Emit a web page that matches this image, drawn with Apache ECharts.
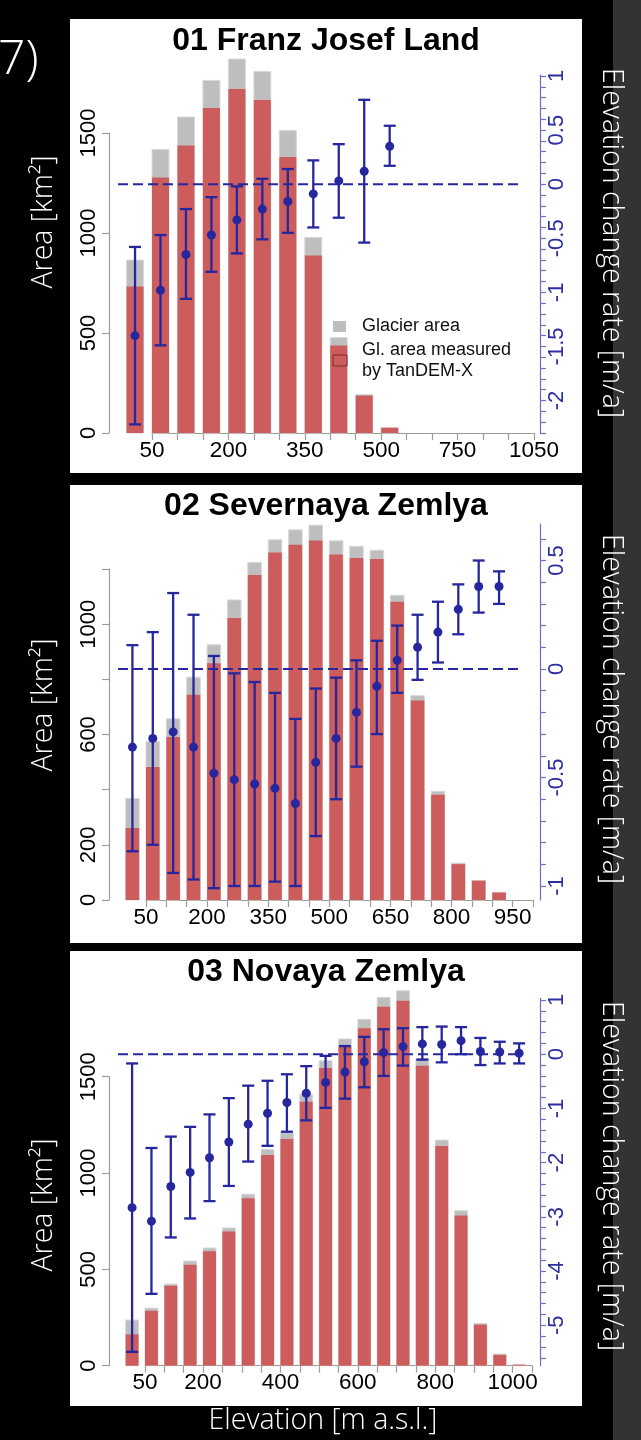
<!DOCTYPE html>
<html>
<head>
<meta charset="utf-8">
<script src="https://cdn.jsdelivr.net/npm/echarts@6/dist/echarts.min.js"></script>
<style>
  html, body { margin: 0; padding: 0; background: #000; }
  #wrap { position: relative; width: 641px; height: 1440px; overflow: hidden; background: #000; }
  #strip { position: absolute; left: 613px; top: 0; width: 28px; height: 1440px; background: #333; }
  .panel { position: absolute; background: #fff; }
  #chart { position: absolute; left: 0; top: 0; width: 641px; height: 1440px; }
</style>
</head>
<body>
<div id="wrap">
  <div id="strip"></div>
  <div class="panel" style="left:70px;top:19px;width:512px;height:454px"></div>
  <div class="panel" style="left:70px;top:485px;width:512px;height:458px"></div>
  <div class="panel" style="left:70px;top:951px;width:512px;height:455px"></div>
  <div id="chart"></div>
</div>
<script>
// ---- 01 Franz Josef Land: area per 50 m elevation bin (km²) and elevation change rate (m/a)
const fjlGlacierArea = [865, 1418, 1580, 1763, 1870, 1808, 1513, 978, 477, 193, 28];
const fjlTandemArea  = [732, 1277, 1437, 1625, 1720, 1665, 1380, 887, 437, 187, 26];
const fjlRate     = [-1.40, -0.98, -0.65, -0.47, -0.33, -0.23, -0.16, -0.09, 0.03, 0.12, 0.35];
const fjlRateLow  = [-2.22, -1.49, -1.06, -0.81, -0.64, -0.51, -0.45, -0.40, -0.31, -0.54, 0.17];
const fjlRateHigh = [-0.58, -0.47, -0.23, -0.12, -0.02, 0.05, 0.14, 0.22, 0.37, 0.78, 0.54];
const fjlTickLabels  = ['50', '200', '350', '500', '750', '1050'];
const fjlTickLabelAt = [0, 3, 6, 9, 12, 15];
const fjlAreaLabels  = [0, 500, 1000, 1500];

// ---- 02 Severnaya Zemlya
const sevGlacierArea = [368, 575, 657, 808, 925, 1088, 1224, 1306, 1342, 1359, 1302, 1282, 1268, 1105, 741, 394, 134, 71, 28];
const sevTandemArea  = [261, 482, 591, 744, 858, 1022, 1178, 1260, 1288, 1303, 1253, 1240, 1236, 1081, 723, 382, 130, 70, 27];
const sevRate     = [-0.36, -0.32, -0.29, -0.36, -0.48, -0.51, -0.53, -0.55, -0.62, -0.43, -0.32, -0.20, -0.08, 0.04, 0.10, 0.17, 0.275, 0.38, 0.38];
const sevRateLow  = [-0.84, -0.81, -0.94, -0.97, -1.01, -1.00, -1.00, -0.98, -1.00, -0.77, -0.60, -0.45, -0.30, -0.11, -0.05, 0.03, 0.16, 0.26, 0.30];
const sevRateHigh = [0.11, 0.17, 0.35, 0.25, 0.06, -0.02, -0.06, -0.11, -0.23, -0.09, -0.04, 0.04, 0.13, 0.20, 0.25, 0.31, 0.39, 0.50, 0.45];
const sevTickLabels  = ['50', '200', '350', '500', '650', '800', '950'];
const sevTickLabelAt = [0, 3, 6, 9, 12, 15, 18];
const sevAreaLabels  = [0, 200, 600, 1000];

// ---- 03 Novaya Zemlya
const novGlacierArea = [237, 299, 424, 543, 611, 715, 890, 1123, 1209, 1409, 1583, 1696, 1798, 1912, 1946, 1595, 1171, 804, 220, 61, 7];
const novTandemArea  = [163, 285, 415, 524, 594, 696, 869, 1094, 1177, 1370, 1545, 1656, 1751, 1863, 1894, 1557, 1140, 780, 213, 56, 5];
const novRate     = [-2.83, -3.08, -2.44, -2.18, -1.91, -1.62, -1.29, -1.09, -0.89, -0.72, -0.52, -0.33, -0.14, 0.03, 0.14, 0.19, 0.18, 0.25, 0.05, 0.04, 0.02];
const novRateLow  = [-5.49, -4.42, -3.38, -3.03, -2.71, -2.43, -1.98, -1.69, -1.43, -1.22, -0.99, -0.82, -0.61, -0.40, -0.21, -0.10, -0.15, 0.00, -0.20, -0.17, -0.17];
const novRateHigh = [-0.17, -1.73, -1.52, -1.34, -1.11, -0.81, -0.58, -0.49, -0.37, -0.22, -0.03, 0.15, 0.32, 0.46, 0.48, 0.50, 0.51, 0.50, 0.30, 0.23, 0.20];
const novTickLabels  = ['50', '200', '400', '600', '800', '1000'];
const novTickLabelAt = [0, 3, 7, 11, 15, 19];
const novAreaLabels  = [0, 500, 1000, 1500];

const RED = '#cd5c5c', GREY = '#bebebe', BLUE = '#26269e';
const AXIS_BLUE = '#6e6ec8', LABEL_BLUE = '#2d2da2';
const TICK_FONT = '"Liberation Sans", Arial, sans-serif';
const WHITE_FONT = '"Open Sans", sans-serif';

// Panel geometry (pixels) and axis ranges; the x axis runs in units of bin boundaries.
const panels = [
  { title: '01 Franz Josef Land', titleY: 41,
    glacier: fjlGlacierArea, tandem: fjlTandemArea, rate: fjlRate, low: fjlRateLow, high: fjlRateHigh,
    tickLabels: fjlTickLabels, tickLabelAt: fjlTickLabelAt, areaLabels: fjlAreaLabels,
    x0: 152, x1: 534, nTicks: 15,
    areaTop: 133, base: 433, areaMax: 1500, areaStep: 500,
    rateTop: 76, rateBottom: 433, rateMin: -2.3, rateMax: 1.0, rateStep: 0.1, rateLabelStep: 0.5,
    lineTop: 75, lineBottom: 433, zeroFrom: -1.335, zeroTo: 14.45,
    areaTitleY: 222, rateTitleY: 243 },
  { title: '02 Severnaya Zemlya', titleY: 506,
    glacier: sevGlacierArea, tandem: sevTandemArea, rate: sevRate, low: sevRateLow, high: sevRateHigh,
    tickLabels: sevTickLabels, tickLabelAt: sevTickLabelAt, areaLabels: sevAreaLabels,
    x0: 146, x1: 533, nTicks: 19,
    areaTop: 569, base: 900, areaMax: 1200, areaStep: 200,
    rateTop: 538.8, rateBottom: 886, rateMin: -1.0, rateMax: 0.6, rateStep: 0.1, rateLabelStep: 0.5,
    lineTop: 524, lineBottom: 900, zeroFrom: -1.376, zeroTo: 18.38,
    areaTitleY: 705, rateTitleY: 709 },
  { title: '03 Novaya Zemlya', titleY: 972,
    glacier: novGlacierArea, tandem: novTandemArea, rate: novRate, low: novRateLow, high: novRateHigh,
    tickLabels: novTickLabels, tickLabelAt: novTickLabelAt, areaLabels: novAreaLabels,
    x0: 145, x1: 532, nTicks: 20,
    areaTop: 1076.7, base: 1365.7, areaMax: 1500, areaStep: 500,
    rateTop: 1000, rateBottom: 1357.8, rateMin: -5.6, rateMax: 1.0, rateStep: 0.2, rateLabelStep: 1,
    lineTop: 998.3, lineBottom: 1365.7, zeroFrom: -1.395, zeroTo: 19.38,
    areaTitleY: 1205, rateTitleY: 1176 }
];

const LEFT_AXIS_X = 109, RIGHT_AXIS_X = 540;
const BAR_HALF = 1 / 3;          // bars fill 2/3 of a bin (barplot space = 0.5)
const BAR_SHIFT = 2 / 3;         // bin i is centred 2/3 of a bin left of boundary i

function renderBars(params, api) {
  const xc = api.value(0), g = api.value(1), r = api.value(2);
  const a = api.coord([xc - BAR_HALF, g]);
  const b = api.coord([xc + BAR_HALF, 0]);
  const c = api.coord([xc - BAR_HALF, r]);
  return { type: 'group', children: [
    { type: 'rect', shape: { x: a[0], y: a[1], width: b[0] - a[0], height: b[1] - a[1] },
      style: { fill: GREY, stroke: '#d9d9d9', lineWidth: 1 } },
    { type: 'rect', shape: { x: c[0], y: c[1], width: b[0] - c[0], height: b[1] - c[1] },
      style: { fill: RED } }
  ]};
}

function renderRate(params, api) {
  const x = api.value(0);
  const m = api.coord([x, api.value(1)]);
  const lo = api.coord([x, api.value(2)]);
  const hi = api.coord([x, api.value(3)]);
  const cap = 6;
  const st = () => ({ stroke: BLUE, lineWidth: 2.3 });
  return { type: 'group', children: [
    { type: 'line', shape: { x1: m[0], y1: hi[1], x2: m[0], y2: lo[1] }, style: st() },
    { type: 'line', shape: { x1: m[0] - cap, y1: hi[1], x2: m[0] + cap, y2: hi[1] }, style: st() },
    { type: 'line', shape: { x1: m[0] - cap, y1: lo[1], x2: m[0] + cap, y2: lo[1] }, style: st() },
    { type: 'circle', shape: { cx: m[0], cy: m[1], r: 4.5 }, style: { fill: BLUE } }
  ]};
}

function renderZero(params, api) {
  const a = api.coord([api.value(0), 0]);
  const b = api.coord([api.value(1), 0]);
  return { type: 'line', shape: { x1: a[0], y1: a[1], x2: b[0], y2: b[1] },
           style: { stroke: BLUE, lineWidth: 2, lineDash: [10, 5] } };
}

const fmtRate = v => String(+(+v).toFixed(1));

const grid = [], xAxis = [], yAxis = [], series = [], graphic = [];

panels.forEach(p => {
  const width = p.x1 - p.x0;
  const gA = grid.length, gB = gA + 1, gC = gA + 2;
  grid.push({ left: p.x0, width: width, top: p.areaTop, height: p.base - p.areaTop });
  grid.push({ left: p.x0, width: width, top: p.rateTop, height: p.rateBottom - p.rateTop });
  grid.push({ left: p.x0, width: width, top: p.lineTop, height: p.lineBottom - p.lineTop });

  // elevation axis
  xAxis.push({
    gridIndex: gA, type: 'value', min: 0, max: p.nTicks, interval: 1,
    axisLine: { onZero: false, lineStyle: { color: '#9c9c9c', width: 1.2 } },
    axisTick: { length: 7, lineStyle: { color: '#9c9c9c', width: 1.2 } },
    splitLine: { show: false },
    axisLabel: {
      margin: 6, color: '#000', fontSize: 22.5, fontFamily: TICK_FONT,
      formatter: v => { const k = p.tickLabelAt.indexOf(Math.round(v)); return k >= 0 ? p.tickLabels[k] : ''; }
    }
  });
  xAxis.push({ gridIndex: gB, type: 'value', min: 0, max: p.nTicks, show: false, axisLine: { onZero: false } });
  xAxis.push({ gridIndex: gC, type: 'value', min: 0, max: p.nTicks, show: false, axisLine: { onZero: false } });

  // area axis (left)
  yAxis.push({
    gridIndex: gA, type: 'value', position: 'left', offset: p.x0 - LEFT_AXIS_X,
    min: 0, max: p.areaMax, interval: p.areaStep,
    axisLine: { show: true, onZero: false, lineStyle: { color: '#9c9c9c', width: 1.2 } },
    axisTick: { show: true, length: 7, lineStyle: { color: '#9c9c9c', width: 1.2 } },
    splitLine: { show: false },
    axisLabel: {
      rotate: 90, margin: 9, color: '#000', fontSize: 22, fontFamily: TICK_FONT,
      formatter: v => p.areaLabels.indexOf(Math.round(v)) >= 0 ? String(Math.round(v)) : ''
    }
  });
  // elevation change rate axis (right): ticks and labels
  yAxis.push({
    gridIndex: gB, type: 'value', position: 'right', offset: RIGHT_AXIS_X - p.x1,
    min: p.rateMin, max: p.rateMax, interval: p.rateStep,
    axisLine: { show: false, onZero: false },
    axisTick: { show: true, length: 6, lineStyle: { color: AXIS_BLUE, width: 1.2 } },
    splitLine: { show: false },
    axisLabel: {
      rotate: 90, margin: 6, color: LABEL_BLUE, fontSize: 22, fontFamily: TICK_FONT,
      formatter: v => {
        const q = v / p.rateLabelStep;
        return Math.abs(q - Math.round(q)) < 1e-6 ? fmtRate(v) : '';
      }
    }
  });
  // elevation change rate axis (right): full-height line
  yAxis.push({
    gridIndex: gC, type: 'value', position: 'right', offset: RIGHT_AXIS_X - p.x1,
    min: 0, max: 1,
    axisLine: { show: true, onZero: false, lineStyle: { color: AXIS_BLUE, width: 1.2 } },
    axisTick: { show: false }, axisLabel: { show: false }, splitLine: { show: false }
  });

  series.push({
    type: 'custom', xAxisIndex: gA, yAxisIndex: gA, clip: false, z: 2,
    renderItem: renderBars,
    data: p.glacier.map((g, i) => [i - BAR_SHIFT, g, p.tandem[i]])
  });
  series.push({
    type: 'custom', xAxisIndex: gB, yAxisIndex: gB, clip: false, z: 3,
    renderItem: renderZero,
    data: [[p.zeroFrom, p.zeroTo]]
  });
  series.push({
    type: 'custom', xAxisIndex: gB, yAxisIndex: gB, clip: false, z: 4,
    renderItem: renderRate,
    data: p.rate.map((r, i) => [i - BAR_SHIFT, r, p.low[i], p.high[i]])
  });

  graphic.push({ type: 'text', x: 326, y: p.titleY, z: 10,
    style: { text: p.title, font: 'bold 32px "Liberation Sans", Arial, sans-serif', fill: '#000',
             align: 'center', verticalAlign: 'middle' } });
  graphic.push({ type: 'text', x: 44, y: p.areaTitleY, rotation: Math.PI / 2, z: 10,
    style: { text: 'Area [km²]', font: '300 28.5px ' + WHITE_FONT, fill: '#fff',
             align: 'center', verticalAlign: 'middle' } });
  graphic.push({ type: 'text', x: 611, y: p.rateTitleY, rotation: -Math.PI / 2, z: 10,
    style: { text: 'Elevation change rate [m/a]', font: '300 28.5px ' + WHITE_FONT, fill: '#fff',
             align: 'center', verticalAlign: 'middle' } });
});

// legend of the first panel
graphic.push({ type: 'rect', z: 10, shape: { x: 333, y: 321, width: 13, height: 11 }, style: { fill: GREY } });
graphic.push({ type: 'rect', z: 10, shape: { x: 333, y: 355, width: 14, height: 11 },
  style: { fill: RED, stroke: '#7a2e2e', lineWidth: 1 } });
[['Glacier area', 326.5], ['Gl. area measured', 350], ['by TanDEM-X', 371]].forEach(([t, y]) => {
  graphic.push({ type: 'text', x: 362, y: y, z: 10,
    style: { text: t, font: '18px "Liberation Sans", Arial, sans-serif', fill: '#111',
             align: 'left', verticalAlign: 'middle' } });
});

// shared labels
graphic.push({ type: 'text', x: 323, y: 1421, z: 10,
  style: { text: 'Elevation [m a.s.l.]', font: '300 28.5px ' + WHITE_FONT, fill: '#fff',
           align: 'center', verticalAlign: 'middle' } });
graphic.push({ type: 'text', x: -2, y: 60, z: 10,
  style: { text: '7)', font: '300 48px ' + WHITE_FONT, fill: '#fff', align: 'left', verticalAlign: 'middle' } });

const chart = echarts.init(document.getElementById('chart'), null, { renderer: 'canvas' });
chart.setOption({
  backgroundColor: 'transparent',
  animation: false,
  grid: grid,
  xAxis: xAxis,
  yAxis: yAxis,
  series: series,
  graphic: { elements: graphic }
});
</script>
</body>
</html>
